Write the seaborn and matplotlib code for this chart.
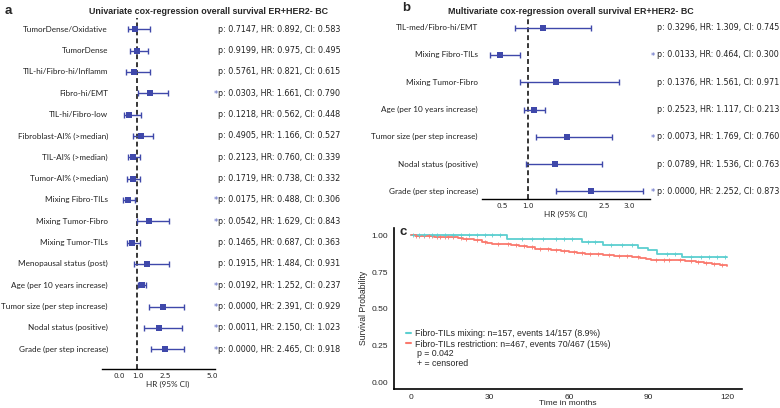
import numpy as np
import pandas as pd
import matplotlib
matplotlib.use('Agg')
import matplotlib.pyplot as plt
import seaborn as sns
from matplotlib.lines import Line2D

## univariate cox regression (panel a)
uni_labels = ['TumorDense/Oxidative', 'TumorDense', 'TIL-hi/Fibro-hi/Inflamm', 'Fibro-hi/EMT',
              'TIL-hi/Fibro-low', 'Fibroblast-AI% (>median)', 'TIL-AI% (>median)', 'Tumor-AI% (>median)',
              'Mixing Fibro-TILs', 'Mixing Tumor-Fibro', 'Mixing Tumor-TILs', 'Menopausal status (post)',
              'Age (per 10 years increase)', 'Tumor size (per step increase)', 'Nodal status (positive)',
              'Grade (per step increase)']
uni_hr = [0.892, 0.975, 0.821, 1.661, 0.562, 1.166, 0.760, 0.738, 0.488, 1.629, 0.687, 1.484, 1.252, 2.391, 2.150, 2.465]
uni_low = [0.47, 0.58, 0.38, 1.01, 0.29, 0.74, 0.47, 0.45, 0.25, 0.97, 0.45, 0.79, 1.04, 1.61, 1.34, 1.72]
uni_high = [1.67, 1.56, 1.67, 2.65, 1.20, 1.81, 1.16, 1.15, 0.88, 2.70, 1.15, 2.70, 1.48, 3.48, 3.40, 3.51]
uni_p = [0.7147, 0.9199, 0.5761, 0.0303, 0.1218, 0.4905, 0.2123, 0.1719, 0.0175, 0.0542, 0.1465, 0.1915, 0.0192, 0.0000, 0.0011, 0.0000]
uni_ci = [0.583, 0.495, 0.615, 0.790, 0.448, 0.527, 0.339, 0.332, 0.306, 0.843, 0.363, 0.931, 0.237, 0.929, 1.023, 0.918]
uni_sig = [False, False, False, True, False, False, False, False, True, True, False, False, True, True, True, True]

## multivariate cox regression (panel b)
multi_labels = ['TIL-med/Fibro-hi/EMT', 'Mixing Fibro-TILs', 'Mixing Tumor-Fibro', 'Age (per 10 years increase)',
                'Tumor size (per step increase)', 'Nodal status (positive)', 'Grade (per step increase)']
multi_hr = [1.309, 0.464, 1.561, 1.117, 1.769, 1.536, 2.252]
multi_low = [0.75, 0.26, 0.85, 0.92, 1.16, 0.96, 1.55]
multi_high = [2.24, 0.85, 2.79, 1.35, 2.66, 2.46, 3.26]
multi_p = [0.3296, 0.0133, 0.1376, 0.2523, 0.0073, 0.0789, 0.0000]
multi_ci = [0.745, 0.300, 0.971, 0.213, 0.760, 0.763, 0.873]
multi_sig = [False, True, False, False, True, False, True]

## kaplan-meier steps (panel c)
mix_time = [0, 36.4, 39.0, 64.8, 73.0, 86.2, 90.0, 93.2, 102.7, 120]
mix_surv = [1.0, 0.977, 0.973, 0.954, 0.937, 0.913, 0.898, 0.872, 0.855, 0.855]
res_time = [0, 2, 4, 6, 9, 12, 15, 18, 20, 22, 24, 27, 29, 31, 35, 38, 41, 44, 47, 50, 53, 57, 60, 63, 66,
            69, 73, 77, 81, 84, 87, 89, 91, 100, 104, 108, 111, 114, 117, 119, 120]
res_surv = [1.0, 0.998, 0.996, 0.994, 0.991, 0.989, 0.986, 0.983, 0.978, 0.972, 0.966, 0.958, 0.950, 0.943,
            0.939, 0.933, 0.925, 0.918, 0.910, 0.904, 0.899, 0.893, 0.888, 0.883, 0.876, 0.871, 0.867, 0.862,
            0.857, 0.851, 0.845, 0.838, 0.832, 0.829, 0.824, 0.820, 0.814, 0.808, 0.801, 0.795, 0.789]
mix_cens = [1, 3, 5, 8, 10, 13, 16, 19, 22, 25, 28, 31, 34, 42, 46, 50, 55, 58, 61, 67, 70, 76, 80, 84,
            97, 100, 106, 110, 113, 116, 119]
res_cens = [2, 3, 5, 7, 8, 10, 11, 13, 14, 16, 19, 21, 25, 28, 33, 37, 40, 43, 46, 49, 52, 55, 58, 62, 65,
            68, 71, 75, 79, 82, 86, 93, 96, 98, 102, 106, 109, 112, 115, 118]
km_labels = ['Fibro-TILs mixing: n=157, events 14/157 (8.9%)', 'Fibro-TILs restriction: n=467, events 70/467 (15%)']

BLUE = '#3f48aa'
STAR = '#5560c0'
CYAN = '#5ccfd0'
RED = '#fa7a6e'

sns.set_theme(style='white')
plt.rcParams['font.family'] = ['Liberation Sans', 'DejaVu Sans']

W, H = 780, 408
fig = plt.figure(figsize=(W / 100, H / 100), dpi=100)


def px_axes(l, t, r, b):
    return fig.add_axes([l / W, 1 - b / H, (r - l) / W, (b - t) / H])


def forest(ax, labels, hr, low, high, pvals, cis, sig, label_x, star_x, text_x, star_txt):
    df = pd.DataFrame({'hr': hr, 'low': low, 'high': high, 'row': np.arange(len(labels))})
    ax.axvline(1.0, color='black', ls=(0, (3.2, 2.0)), lw=1.1, zorder=1)
    ax.errorbar(df['hr'], df['row'], xerr=[df['hr'] - df['low'], df['high'] - df['hr']], fmt='none',
                ecolor=BLUE, elinewidth=1.0, capsize=2.3, capthick=1.0, zorder=2)
    sns.scatterplot(data=df, x='hr', y='row', marker='s', s=18, color=BLUE, linewidth=0, ax=ax, zorder=3)
    tr = ax.get_yaxis_transform()
    for i, lab in enumerate(labels):
        ax.text(label_x, i, lab, transform=tr, ha='right', va='center', fontsize=5.9,
                family=['Lato', 'DejaVu Sans'], color='#222222', clip_on=False)
        ax.text(text_x, i, f'p: {pvals[i]:.4f}, HR: {hr[i]:.3f}, CI: {cis[i]:.3f}', transform=tr,
                ha='left', va='center', fontsize=5.75, family='DejaVu Sans', color='#222222', clip_on=False)
        if sig[i]:
            ax.text(star_x, i + 0.05, star_txt, transform=tr, ha='right', va='center', fontsize=6,
                    family='DejaVu Sans', color=STAR, clip_on=False)
    for s in ['left', 'right', 'top']:
        ax.spines[s].set_visible(False)
    ax.spines['bottom'].set_color('black')
    ax.spines['bottom'].set_linewidth(1.0)
    ax.set_yticks([])
    ax.set_ylabel('')
    ax.tick_params(axis='x', length=0, pad=3, labelsize=5.2)
    for t in ax.get_xticklabels():
        t.set_family('DejaVu Sans')
    ax.set_xlabel('HR (95% CI)', fontsize=5.9, family=['Lato', 'DejaVu Sans'], labelpad=1.5)


## panel a
axa = px_axes(102, 18, 215, 369)
forest(axa, uni_labels, uni_hr, uni_low, uni_high, uni_p, uni_ci, uni_sig,
       label_x=0.053, star_x=1.03, text_x=1.027, star_txt='*')
axa.set_xlim(-0.9, 5.15)
axa.set_ylim(15.93, -0.53)
axa.set_xticks([0, 1.0, 2.5, 5.0], ['0.0', '1.0', '2.5', '5.0'])
axa.xaxis.set_label_coords(0.58, -0.035)

## panel b
axb = px_axes(481.7, 15, 650, 199)
forest(axb, multi_labels, multi_hr, multi_low, multi_high, multi_p, multi_ci, multi_sig,
       label_x=-0.022, star_x=1.028, text_x=1.04, star_txt='*')
axb.set_xlim(0.1, 3.4)
axb.set_ylim(6.28, -0.466)
axb.set_xticks([0.5, 1.0, 2.5, 3.0], ['0.5', '1.0', '2.5', '3.0'])

## panel c
axc = px_axes(394, 228, 742, 388.7)
km_df = pd.concat([pd.DataFrame({'time': mix_time, 'surv': mix_surv, 'group': 'mix'}),
                   pd.DataFrame({'time': res_time, 'surv': res_surv, 'group': 'res'})])
sns.lineplot(data=km_df, x='time', y='surv', hue='group', palette={'mix': CYAN, 'res': RED},
             estimator=None, sort=False, drawstyle='steps-post', lw=1.3, legend=False, ax=axc)


def surv_at(times, surv, t):
    idx = np.searchsorted(times, t, side='right') - 1
    return np.asarray(surv)[idx]


sns.scatterplot(x=res_cens, y=surv_at(res_time, res_surv, res_cens), marker='+', s=8, color=RED,
                linewidth=0.6, ax=axc, zorder=3)
sns.scatterplot(x=mix_cens, y=surv_at(mix_time, mix_surv, mix_cens), marker='+', s=8, color=CYAN,
                linewidth=0.6, ax=axc, zorder=3)

handles = [Line2D([], [], color=CYAN, lw=1.5), Line2D([], [], color=RED, lw=1.5)]
axc.legend(handles, km_labels, loc='upper left', bbox_to_anchor=(0.035, 0.37), frameon=False,
           fontsize=6.3, handlelength=0.55, handletextpad=0.5, borderpad=0, borderaxespad=0,
           labelspacing=0.15)
axc.text(0.065, 0.217, 'p = 0.042', transform=axc.transAxes, va='center', fontsize=6.3)
axc.text(0.065, 0.157, '+ = censored', transform=axc.transAxes, va='center', fontsize=6.3)

axc.set_xlim(-6.3, 125.5)
axc.set_ylim(-0.044, 1.05)
axc.set_xticks([0, 30, 60, 90, 120])
axc.set_yticks([0, 0.25, 0.5, 0.75, 1.0], ['0.00', '0.25', '0.50', '0.75', '1.00'])
axc.tick_params(length=2, width=0.6, pad=2, labelsize=6.0, color='black')
for s in ['right', 'top']:
    axc.spines[s].set_visible(False)
for s in ['left', 'bottom']:
    axc.spines[s].set_color('black')
    axc.spines[s].set_linewidth(1.2)
axc.set_xlabel('Time in months', fontsize=6.0, labelpad=-1)
axc.set_ylabel('Survival Probability', fontsize=6.2, labelpad=3)

## titles and panel letters
fig.text(208.5 / W, 1 - 11 / H, 'Univariate cox-regression overall survival ER+HER2- BC', ha='center',
         va='center', fontsize=6.4, fontweight='bold')
fig.text(571 / W, 1 - 11 / H, 'Multivariate cox-regression overall survival ER+HER2- BC', ha='center',
         va='center', fontsize=6.4, fontweight='bold')
fig.text(8 / W, 1 - 11 / H, 'a', ha='center', va='center', fontsize=9.5, fontweight='bold')
fig.text(406 / W, 1 - 8 / H, 'b', ha='center', va='center', fontsize=9.5, fontweight='bold')
fig.text(403 / W, 1 - 232 / H, 'c', ha='center', va='center', fontsize=9.5, fontweight='bold')

fig.savefig('out.png', dpi=100)
